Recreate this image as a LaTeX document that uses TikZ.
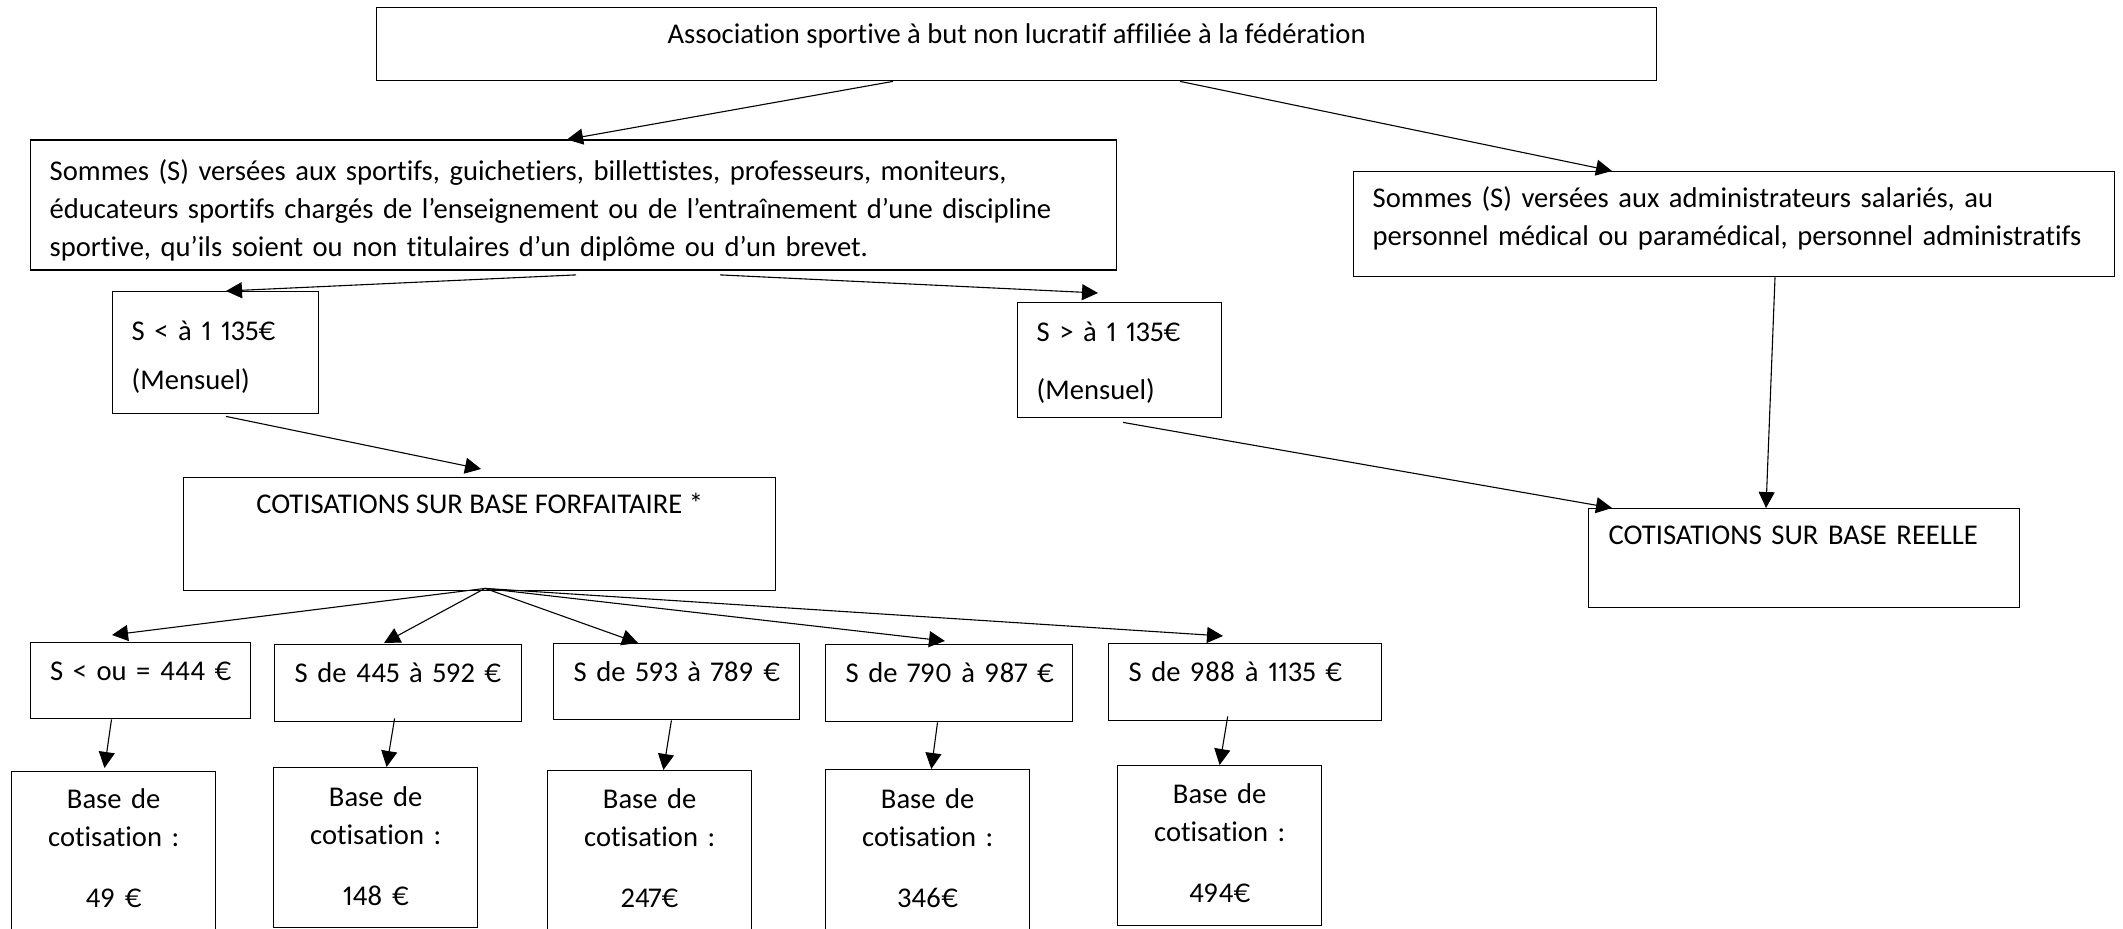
\documentclass[tikz,border=0pt]{standalone}
\usepackage{fontspec}
\setmainfont{Carlito}[Ligatures=CommonOff, Numbers=Proportional]
\usetikzlibrary{arrows.meta}

\begin{document}
\begin{tikzpicture}[x=0.5pt, y=-0.5pt,
	box/.style={draw, line width=0.7pt, inner ysep=0pt, inner xsep=10pt, anchor=north west, font=\fontsize{14.3pt}{19pt}\selectfont},
	rangebox/.style={box, align=left, inner xsep=3pt, text height=19pt, execute at begin node={\hspace*{7pt}}},
	link/.style={-{Triangle[length=8pt,width=8pt]}, line width=0.55pt}]
		
		\useasboundingbox (0,0) rectangle (2123,929);
		
		%top
		\node[box, minimum width=640pt, text height=18pt, text depth=18.5pt] (top) at (376,7) {Association sportive à but non lucratif affiliée à la fédération};
		%sommes1
		\node[box, text width=524pt, inner xsep=9.5pt, align=left, text height=20.25pt, text depth=44.75pt] (sommes1) at (30,139.5) {Sommes (S) versées aux sportifs, guichetiers, billettistes, professeurs, moniteurs,\\ éducateurs sportifs chargés de l’enseignement ou de l’entraînement d’une discipline\\ sportive, qu’ils soient ou non titulaires d’un diplôme ou d’un brevet.};
		%sommes2
		\node[box, text width=361.5pt, inner xsep=9.5pt, align=left, text height=18pt, text depth=34.5pt] (sommes2) at (1353,171) {Sommes (S) versées aux administrateurs salariés, au\\ personnel médical ou paramédical, personnel administratifs};
		%inf
		\node[box, text width=84pt, inner xsep=9.5pt, align=left, text height=24.5pt, text depth=36.5pt] (inf) at (112,291) {S < à 1 135€\\[5.4pt] (Mensuel)};
		%sup
		\node[box, text width=83pt, inner xsep=9.5pt, align=left, text height=19.5pt, text depth=38pt] (sup) at (1017,302) {S > à 1 135€\\[10pt] (Mensuel)};
		%forfait
		\node[box, minimum width=296pt, text height=18pt, text depth=38.5pt] (forfait) at (183,477) {COTISATIONS SUR BASE FORFAITAIRE *};
		%reelle
		\node[box, text width=195.5pt, align=left, text height=18pt, text depth=31.5pt] (reelle) at (1588,508) {COTISATIONS SUR BASE REELLE};
		%tr1
		\node[rangebox, text width=104.25pt, text depth=19pt] (tr1) at (29.5,642) {S < ou = 444 €};
		%tr2
		\node[rangebox, text width=117.25pt, text depth=19.5pt] (tr2) at (274,644) {S de 445 à 592 €};
		%tr3
		\node[rangebox, text width=117pt, text depth=19pt] (tr3) at (553,643) {S de 593 à 789 €};
		%tr4
		\node[rangebox, text width=117.25pt, text depth=19.5pt] (tr4) at (825,644) {S de 790 à 987 €};
		%tr5
		\node[rangebox, text width=130.25pt, text depth=19.5pt] (tr5) at (1108,643) {S de 988 à 1135 €};
		%base1
		\node[box, text width=82pt, align=center, text height=18.5pt, text depth=62pt] (base1) at (11,771) {Base de\\ cotisation :\\[11.5pt] 49 €};
		%base2
		\node[box, text width=82pt, align=center, text height=19.5pt, text depth=60.5pt] (base2) at (273,767) {Base de\\ cotisation :\\[11.5pt] 148 €};
		%base3
		\node[box, text width=82pt, align=center, text height=19pt, text depth=62pt] (base3) at (547,770) {Base de\\ cotisation :\\[11.5pt] 247€};
		%base4
		\node[box, text width=82pt, align=center, text height=19.5pt, text depth=62pt] (base4) at (825,769) {Base de\\ cotisation :\\[11.5pt] 346€};
		%base5
		\node[box, text width=82pt, align=center, text height=19pt, text depth=61pt] (base5) at (1117,765) {Base de\\ cotisation :\\[11.5pt] 494€};
		
		% top
		\draw[link] ([shift={(517,0)}]top.south west) -- ([shift={(537,0)}]sommes1.north west);
		\draw[link] ([shift={(804,0)}]top.south west) -- ([shift={(259,0)}]sommes2.north west);
		
		% sommes1
		\draw[link] ([shift={(546,4)}]sommes1.south west) -- ([shift={(114,0)}]inf.north west);
		\draw[link] ([shift={(690,4)}]sommes1.south west) -- ([shift={(81,-9)}]sup.north west);
		
		% sommes2
		\draw[link] ([shift={(422,0)}]sommes2.south west) -- ([shift={(178,0)}]reelle.north west);
		
		% inf, sup
		\draw[link] ([shift={(114,2)}]inf.south west) -- ([shift={(298,-8)}]forfait.north west);
		\draw[link] ([shift={(106,4)}]sup.south west) -- ([shift={(24,0)}]reelle.north west);
		
		% forfait
		\draw[link] ([shift={(302,-3)}]forfait.south west) -- ([shift={(82.5,-7)}]tr1.north west);
		\draw[link] ([shift={(302,-3)}]forfait.south west) -- ([shift={(110,-1)}]tr2.north west);
		\draw[link] ([shift={(302,-3)}]forfait.south west) -- ([shift={(85,0)}]tr3.north west);
		\draw[link] ([shift={(302,-3)}]forfait.south west) -- ([shift={(120,-3)}]tr4.north west);
		\draw[link] ([shift={(302,-3)}]forfait.south west) -- ([shift={(115,-7)}]tr5.north west);
		
		% tranches
		\draw[link] ([shift={(82,0)}]tr1.south west) -- ([shift={(93.5,-3)}]base1.north west);
		\draw[link] ([shift={(120.6,-4)}]tr2.south west) -- ([shift={(113.6,0)}]base2.north west);
		\draw[link] ([shift={(118.4,0)}]tr3.south west) -- ([shift={(116.4,0)}]base3.north west);
		\draw[link] ([shift={(112.5,0)}]tr4.south west) -- ([shift={(106.3,0)}]base4.north west);
		\draw[link] ([shift={(119.7,-5)}]tr5.south west) -- ([shift={(102.6,0)}]base5.north west);
		
\end{tikzpicture}
\end{document}
